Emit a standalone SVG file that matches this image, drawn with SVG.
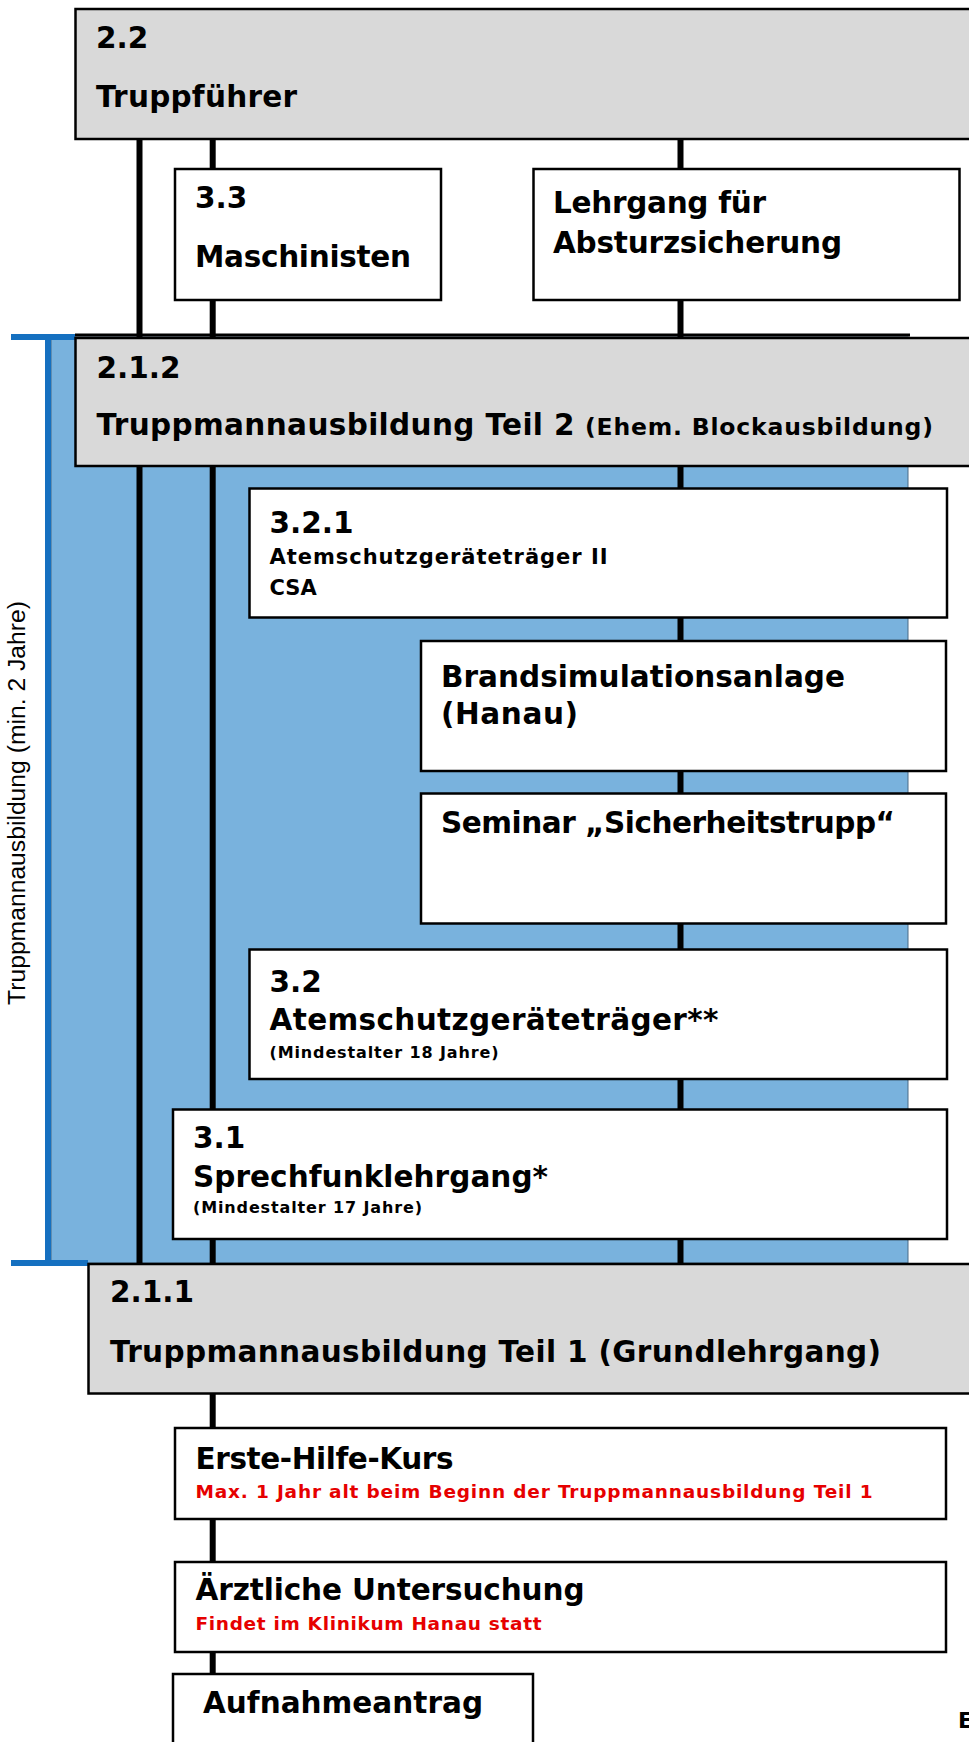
<svg xmlns="http://www.w3.org/2000/svg" width="969" height="1742" viewBox="0 0 969 1742">
  <style>
    .box { stroke: #000; stroke-width: 2.5; }
    .grey { fill: #D9D9D9; }
    .white { fill: #FFFFFF; }
    .t { font-family: "DejaVu Sans", Verdana, sans-serif; font-weight: bold; fill: #000; }
    .big { font-size: 29.5px; }
    .mid { font-size: 21px; }
    .sm { font-size: 16px; }
    .red { fill: #E60000; font-size: 18.5px; }
    .conn { stroke: #000; stroke-width: 6; fill: none; }
    .bracket { stroke: #1570C0; stroke-width: 6; fill: none; }
  </style>
  <rect width="969" height="1742" fill="#FFFFFF"/>

  <g id="phase-region">
    <rect x="51" y="337" width="857" height="926" fill="#79B2DD" stroke="#4A6A85" stroke-width="1"/>
    <line x1="75" y1="335" x2="910" y2="335" stroke="#000" stroke-width="3"/>
    <path class="bracket" d="M11,337 H75 M48,334 V1266 M11,1263 H88"/>
    <text transform="translate(25,803) rotate(-90)" text-anchor="middle" font-family="Liberation Sans, Arial, sans-serif" font-size="24.7" fill="#000">Truppmannausbildung (min. 2 Jahre)</text>
  </g>

  <g id="connectors">
    <line class="conn" x1="139.5" y1="139" x2="139.5" y2="1264"/>
    <line class="conn" x1="212.7" y1="139" x2="212.7" y2="1674"/>
    <line class="conn" x1="680.5" y1="139" x2="680.5" y2="1264"/>
  </g>

  <g id="n22">
    <rect class="box grey" x="75.5" y="9" width="1000" height="130"/>
    <text class="t big" x="96" y="48">2.2</text>
    <text class="t big" x="96" y="107" textLength="201" lengthAdjust="spacing">Truppführer</text>
  </g>
  <g id="n33">
    <rect class="box white" x="175" y="169" width="266" height="131"/>
    <text class="t big" x="195" y="208">3.3</text>
    <text class="t big" x="195" y="267" textLength="216" lengthAdjust="spacing">Maschinisten</text>
  </g>
  <g id="nAbsturz">
    <rect class="box white" x="533.5" y="169" width="426" height="131"/>
    <text class="t big" x="553" y="213" textLength="213" lengthAdjust="spacing">Lehrgang für</text>
    <text class="t big" x="553" y="253" textLength="289" lengthAdjust="spacing">Absturzsicherung</text>
  </g>
  <g id="n212">
    <rect class="box grey" x="75.5" y="338" width="1000" height="128"/>
    <text class="t big" x="96.5" y="378">2.1.2</text>
    <text class="t big" x="96.5" y="435" textLength="478" lengthAdjust="spacing">Truppmannausbildung Teil 2</text>
    <text class="t" font-size="23.5" x="585" y="435" textLength="348" lengthAdjust="spacing">(Ehem. Blockausbildung)</text>
  </g>
  <g id="n321">
    <rect class="box white" x="249.5" y="488.5" width="697.5" height="129"/>
    <text class="t big" x="269.5" y="533">3.2.1</text>
    <text class="t mid" x="269.5" y="564" textLength="338" lengthAdjust="spacing">Atemschutzgeräteträger II</text>
    <text class="t mid" x="269.5" y="595">CSA</text>
  </g>
  <g id="nBrand">
    <rect class="box white" x="421" y="641" width="525" height="130"/>
    <text class="t big" x="441" y="687" textLength="404" lengthAdjust="spacing">Brandsimulationsanlage</text>
    <text class="t big" x="441" y="724" textLength="137" lengthAdjust="spacing">(Hanau)</text>
  </g>
  <g id="nSeminar">
    <rect class="box white" x="421" y="793.5" width="525" height="130"/>
    <text class="t big" x="441" y="833" textLength="454" lengthAdjust="spacing">Seminar „Sicherheitstrupp“</text>
  </g>
  <g id="n32">
    <rect class="box white" x="249.5" y="949.5" width="697.5" height="129.5"/>
    <text class="t big" x="269.5" y="991.5">3.2</text>
    <text class="t big" x="269.5" y="1030" textLength="449" lengthAdjust="spacing">Atemschutzgeräteträger**</text>
    <text class="t sm" x="269.5" y="1058" textLength="229" lengthAdjust="spacing">(Mindestalter 18 Jahre)</text>
  </g>
  <g id="n31">
    <rect class="box white" x="173" y="1109.5" width="774" height="129.5"/>
    <text class="t big" x="193" y="1148">3.1</text>
    <text class="t big" x="193" y="1186.5" textLength="355" lengthAdjust="spacing">Sprechfunklehrgang*</text>
    <text class="t sm" x="193" y="1213" textLength="229" lengthAdjust="spacing">(Mindestalter 17 Jahre)</text>
  </g>
  <g id="n211">
    <rect class="box grey" x="88.5" y="1264" width="1000" height="129.5"/>
    <text class="t big" x="110" y="1302">2.1.1</text>
    <text class="t big" x="110" y="1361.5" textLength="771" lengthAdjust="spacing">Truppmannausbildung Teil 1 (Grundlehrgang)</text>
  </g>
  <g id="nErsteHilfe">
    <rect class="box white" x="175" y="1428" width="771" height="91"/>
    <text class="t big" x="195.5" y="1469" textLength="258" lengthAdjust="spacing">Erste-Hilfe-Kurs</text>
    <text class="t red" x="195.5" y="1497.5" textLength="677" lengthAdjust="spacing">Max. 1 Jahr alt beim Beginn der Truppmannausbildung Teil 1</text>
  </g>
  <g id="nArzt">
    <rect class="box white" x="175" y="1562" width="771" height="90"/>
    <text class="t big" x="195.5" y="1600" textLength="389" lengthAdjust="spacing">Ärztliche Untersuchung</text>
    <text class="t red" x="195.5" y="1630" textLength="346" lengthAdjust="spacing">Findet im Klinikum Hanau statt</text>
  </g>
  <g id="nAufnahme">
    <rect class="box white" x="173" y="1674" width="360" height="100"/>
    <text class="t big" x="203" y="1713" textLength="280" lengthAdjust="spacing">Aufnahmeantrag</text>
  </g>
  <text class="t" font-size="22" x="958" y="1728">E</text>
</svg>
